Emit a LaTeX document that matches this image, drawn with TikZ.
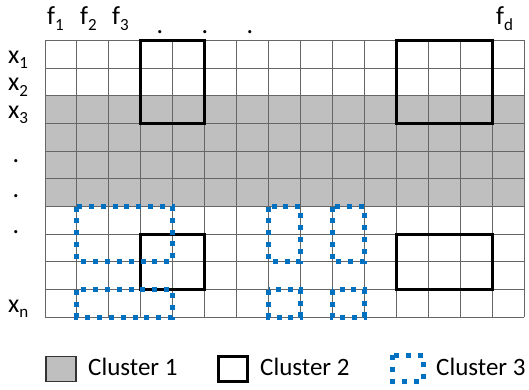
\documentclass[tikz,border=0pt]{standalone}
\usepackage{fontspec}
\setmainfont{Carlito}
\newcommand\mysub[1]{\raisebox{-0.2em}{\fontsize{17}{17}\selectfont #1}}
\definecolor{clgray}{HTML}{BFBFBF}
\definecolor{gridc}{HTML}{666666}
\definecolor{clblue}{HTML}{0070C0}
\tikzset{
  gridline/.style={draw=gridc, line width=0.9pt},
  clustertwo/.style={draw=black, line width=3pt},
  clusterthree/.style={draw=clblue, line width=5pt, dash pattern=on 5pt off 6.9pt},
  lbl/.style={inner sep=0pt, anchor=base west, font=\fontsize{26}{30}\selectfont},
  leg/.style={inner sep=0pt, anchor=base west, font=\fontsize{25}{30}\selectfont},
}
\begin{document}
\begin{tikzpicture}[x=1pt,y=-1pt]
\useasboundingbox (0,0) rectangle (529,390);
% labels
\node[lbl] (f1) at (47,25) {f\mysub{1}};
\node[lbl] (f2) at (80,25) {f\mysub{2}};
\node[lbl] (f3) at (112,25) {f\mysub{3}};
\node[lbl, anchor=base] (d1) at (160,34) {.};
\node[lbl, anchor=base] (d2) at (205,34) {.};
\node[lbl, anchor=base] (d3) at (250,34) {.};
\node[lbl] (fd) at (496,25) {f\mysub{d}};
\node[lbl] (x1) at (8,63.5) {x\mysub{1}};
\node[lbl] (x2) at (8,91) {x\mysub{2}};
\node[lbl] (x3) at (8,118.5) {x\mysub{3}};
\node[lbl, anchor=base] (r1) at (16,162) {.};
\node[lbl, anchor=base] (r2) at (16,197) {.};
\node[lbl, anchor=base] (r3) at (16,233) {.};
\node[lbl] (xn) at (8,312) {x\mysub{n}};
\begin{scope}[shift={(45pt,-40.3pt)}, x=31.93pt, y=-27.7pt]
  \fill[clgray] (0,2) rectangle (15,6);
  \foreach \i in {0,...,15} \draw[gridline] (\i,0) -- (\i,10);
  \foreach \j in {0,...,10} \draw[gridline] (0,\j) -- (15,\j);
  % cluster 2
  \draw[clustertwo] (3,0) rectangle (5,3);
  \draw[clustertwo] (11,0) rectangle (14,3);
  \draw[clustertwo] (3,7) rectangle (5,9);
  \draw[clustertwo] (11,7) rectangle (14,9);
  % cluster 3
  \draw[clusterthree] (1,6) rectangle (4,8);
  \draw[clusterthree] (1,9) rectangle (4,10);
  \draw[clusterthree] (7,6) rectangle (8,8);
  \draw[clusterthree] (9,6) rectangle (10,8);
  \draw[clusterthree] (7,9) rectangle (8,10);
  \draw[clusterthree] (9,9) rectangle (10,10);
\end{scope}
% legend
\draw[fill=clgray, draw=black!80, line width=1.8pt] (46,356.5) rectangle (76,381.5);
\node[leg] (c1) at (88,375) {Cluster 1};
\draw[clustertwo] (218,356.5) rectangle (247.5,381.5);
\node[leg] (c2) at (260,375) {Cluster 2};
\draw[clusterthree] (392,355) rectangle (423,381);
\node[leg] (c3) at (436,375) {Cluster 3};
\end{tikzpicture}
\end{document}
